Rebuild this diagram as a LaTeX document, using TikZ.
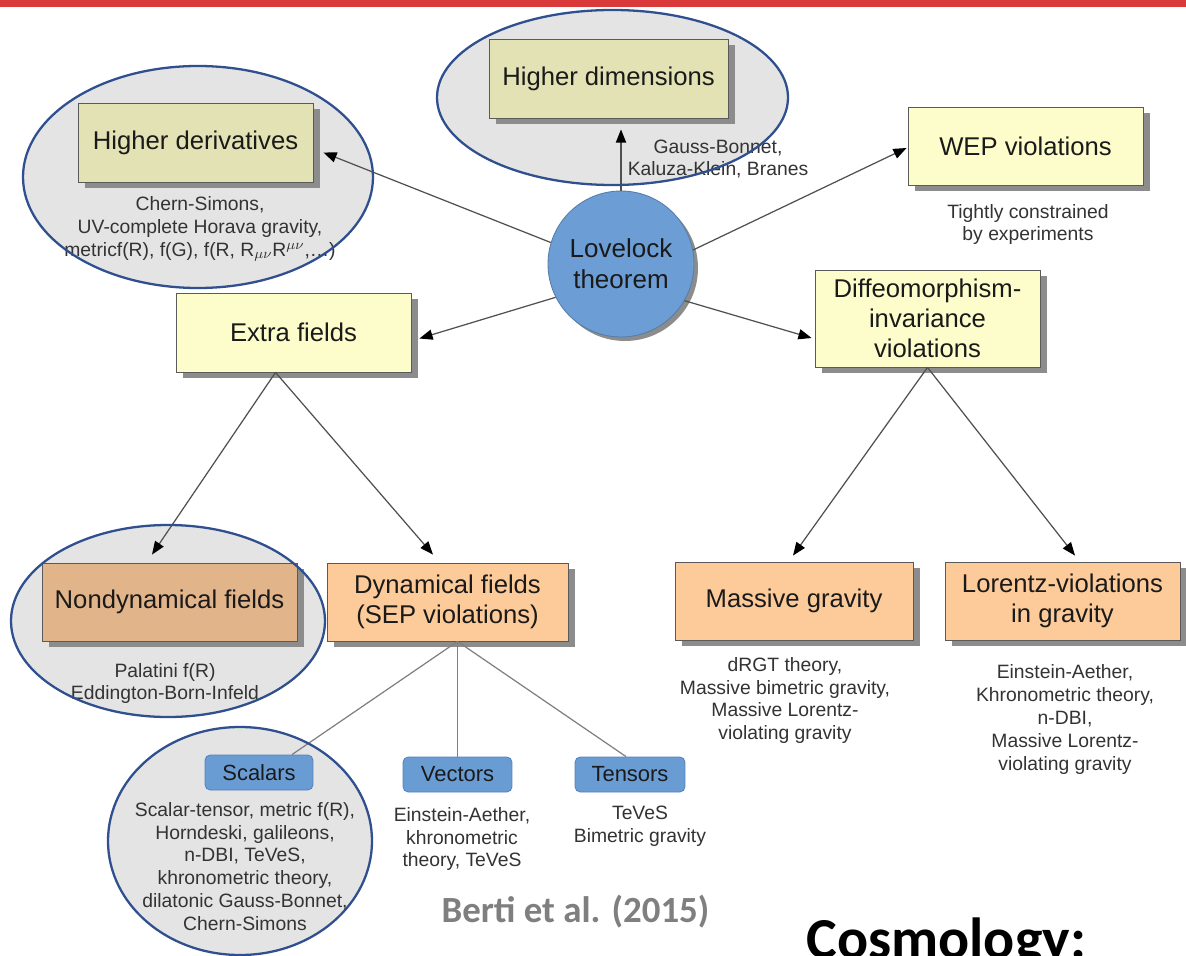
\documentclass[tikz,border=0pt]{standalone}
\usepackage{fontspec}
\setmainfont{Liberation Sans}
\newfontfamily\carlito{Carlito}
\usetikzlibrary{shadows,arrows.meta,calc}
\definecolor{redbar}{HTML}{DA3A3A}
\definecolor{hlfill}{HTML}{E4E4E4}
\definecolor{hlblue}{HTML}{2F4F8F}
\definecolor{khakiin}{HTML}{E2E2B4}
\definecolor{yellowout}{HTML}{FDFDCB}
\definecolor{orangeout}{HTML}{FDCB9A}
\definecolor{orangein}{HTML}{E2B48A}
\definecolor{bluecircle}{HTML}{6C9DD5}
\definecolor{bluefill}{HTML}{6A9CD4}
\definecolor{blueborder}{HTML}{5582BC}
\definecolor{boxborder}{HTML}{5A5A5A}
\definecolor{shadowgray}{HTML}{8C8C8C}
\definecolor{linegray}{HTML}{505050}
\definecolor{textdark}{HTML}{1A1A1A}
\definecolor{notegray}{HTML}{333333}
\definecolor{bertigray}{HTML}{7F7F7F}
\tikzset{
  box/.style={draw=boxborder, line width=0.5pt, align=center, inner sep=0pt,
    font=\fontsize{14.6}{17}\selectfont, text=textdark,
    drop shadow={shadow xshift=0.14cm, shadow yshift=-0.12cm, fill=shadowgray, opacity=1}},
  note/.style={align=center, font=\fontsize{11}{13}\selectfont, text=notegray, inner sep=0pt},
  bluebox/.style={rounded corners=3pt, fill=bluefill, draw=blueborder, line width=0.5pt,
    inner sep=0pt, font=\fontsize{12.5}{15}\selectfont, text=textdark,
    minimum height=0.7cm},
  conn/.style={draw=linegray, line width=0.7pt},
  arr/.style={conn, -{Triangle[length=7.5pt,width=5.8pt,color=black]}},
  hl/.style={draw=hlblue, line width=1.3pt},
}
\begin{document}
\begin{tikzpicture}[x=0.02cm,y=-0.02cm]
\useasboundingbox (0,0) rectangle (1186,956);
\clip (0,0) rectangle (1186,956);
\fill[white] (0,0) rectangle (1186,956);
\fill[redbar] (0,0) rectangle (1186,7);

% highlight fills
\fill[hlfill] (198,177) ellipse [x radius=175, y radius=111];
\fill[hlfill] (612.5,97.5) ellipse [x radius=175.5, y radius=87.5];
\fill[hlfill] (168,621) ellipse [x radius=157, y radius=96];
\fill[hlfill] (240,841) ellipse [x radius=132, y radius=114];

% boxes
\node[box, fill=khakiin, minimum width=4.78cm, minimum height=1.58cm] (hdim) at (608.5,78.5) {Higher dimensions};
\node[box, fill=khakiin, minimum width=4.7cm, minimum height=1.58cm] (hder) at (195.5,142.5) {Higher derivatives};
\node[box, fill=yellowout, minimum width=4.7cm, minimum height=1.56cm] (wep) at (1025.5,146) {WEP violations};
\node[box, fill=yellowout, minimum width=4.7cm, minimum height=1.58cm] (extra) at (293.5,332.5) {Extra fields};
\node[box, fill=yellowout, minimum width=4.5cm, minimum height=1.94cm] (diffeo) at (927.5,318.5) {Diffeomorphism-\\invariance\\violations};
\node[box, fill=orangein, minimum width=5.1cm, minimum height=1.56cm] (nondyn) at (169.5,602) {Nondynamical fields};
\node[box, fill=orangeout, minimum width=4.82cm, minimum height=1.56cm] (dyn) at (447.5,602) {Dynamical fields\\(SEP violations)};
\node[box, fill=orangeout, minimum width=4.76cm, minimum height=1.56cm] (massive) at (794,601) {Massive gravity};
\node[box, fill=orangeout, minimum width=4.7cm, minimum height=1.56cm] (lorentz) at (1062.5,601) {Lorentz-violations\\in gravity};

\node[circle, fill=bluecircle, draw=bluecircle!80!black, line width=0.5pt, minimum size=2.92cm, inner sep=0pt,
  align=center, font=\fontsize{14.8}{17.5}\selectfont, text=textdark,
  drop shadow={shadow xshift=0.08cm, shadow yshift=-0.08cm, fill=shadowgray, opacity=1}] (love) at (621,264) {Lovelock\\theorem};

\node[bluebox, minimum width=2.16cm] (scalars) at (259,772.5) {Scalars};
\node[bluebox, minimum width=2.18cm] (vectors) at (457.5,774.5) {Vectors};
\node[bluebox, minimum width=2.2cm] (tensors) at (630,774.5) {Tensors};

% connectors
\draw[arr] (love.north) -- ($(love.north |- hdim.south)+(0,11)$);
\draw[arr] (love.163) -- ($(hder.east)+(10,10)$);
\draw[arr] (love.11) -- ($(wep.west)+(-1,2)$);
\draw[arr] (love.207) -- ($(extra.east)+(8,6)$);
\draw[arr] (love.-30) -- ($(diffeo.west)+(-3,19.5)$);
\coordinate (exs) at ($(extra.south)+(-18,0)$);
\draw[arr] (exs) -- ($(nondyn.north)+(-17.5,-8)$);
\draw[arr] (exs) -- ($(dyn.north)+(-14.5,-8)$);
\draw[arr] (diffeo.south) -- ($(massive.north)+(-1,-6)$);
\draw[arr] (diffeo.south) -- ($(lorentz.north)+(12.5,-6)$);
\coordinate (dys) at ($(dyn.south)+(10,0)$);
\draw[conn, draw=gray] (dys) -- ($(scalars.north)+(33,0)$);
\draw[conn, draw=gray] (dys) -- (vectors.north);
\draw[conn, draw=gray] (dys) -- ($(tensors.north)+(-4,0)$);

% notes
\node[note] (hdimn) at (718,159) {Gauss-Bonnet,\\Kaluza-Klein, Branes};
\node[note] (hdern) at (200,229) {Chern-Simons,\\UV-complete Horava gravity,\\metricf(R), f(G), f(R, R$_{\mu\nu}$R$^{\mu\nu}$,\ldots)};
\node[note] (wepn) at (1028,224.5) {Tightly constrained\\by experiments};
\node[note] (nondynn) at (165,683.5) {Palatini f(R)\\Eddington-Born-Infeld};
\node[note] (massiven) at (785,700.5) {dRGT theory,\\Massive bimetric gravity,\\Massive Lorentz-\\violating gravity};
\node[note] (lorentzn) at (1065,719.5) {Einstein-Aether,\\Khronometric theory,\\n-DBI,\\Massive Lorentz-\\violating gravity};
\node[note] (scalarsn) at (245,866.5) {Scalar-tensor, metric f(R),\\Horndeski, galileons,\\n-DBI, TeVeS,\\khronometric theory,\\dilatonic Gauss-Bonnet,\\Chern-Simons};
\node[note] (vectorsn) at (462,839) {Einstein-Aether,\\khronometric\\theory, TeVeS};
\node[note] (tensorsn) at (640,826.5) {TeVeS\\Bimetric gravity};

\node[font=\carlito\bfseries\fontsize{21}{25}\selectfont, text=bertigray, inner sep=0pt] (berti) at (575.5,912) {Berti et al. (2015)};
\node[anchor=base west, font=\carlito\bfseries\fontsize{33}{38}\selectfont, inner sep=0pt] (cosmo) at (806,958) {Cosmology:};

% highlight outlines
\draw[hl] (198,177) ellipse [x radius=175, y radius=111];
\draw[hl] (612.5,97.5) ellipse [x radius=175.5, y radius=87.5];
\draw[hl] (168,621) ellipse [x radius=157, y radius=96];
\draw[hl] (240,841) ellipse [x radius=132, y radius=114];
\end{tikzpicture}
\end{document}
